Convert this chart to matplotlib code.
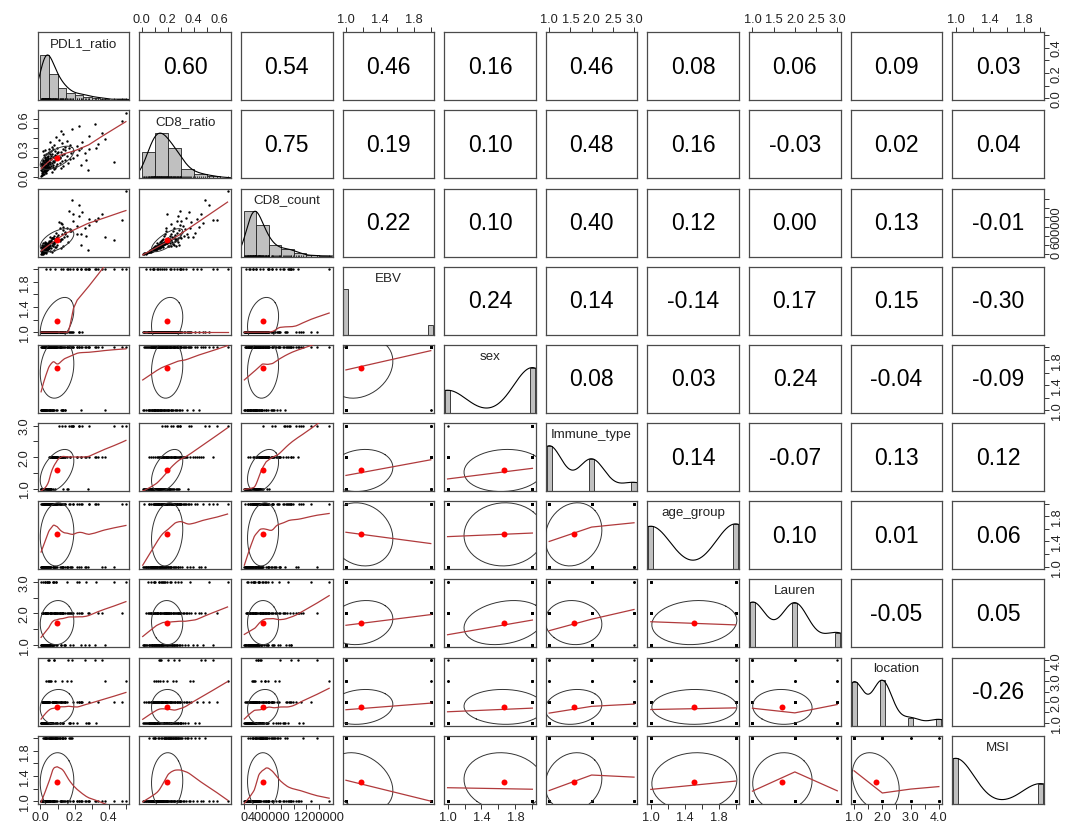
import numpy as np
import matplotlib.pyplot as plt

plt.rcParams['font.family'] = ['Liberation Sans', 'DejaVu Sans']

names = ['PDL1_ratio', 'CD8_ratio', 'CD8_count', 'EBV', 'sex',
         'Immune_type', 'age_group', 'Lauren', 'location', 'MSI']

# continuous measurements, one value per patient (same order in every column)
pdl1_ratio = [
    .004, .012, .007, .021, .015, .031, .009, .018, .026, .065,
    .011, .034, .019, .280, .041, .006, .027, .078, .014, .038,
    .023, .046, .057, .017, .033, .121, .009, .044, .029, .088,
    .036, .048, .072, .013, .052, .024, .091, .008, .037, .061,
    .019, .135, .029, .045, .074, .011, .033, .236, .022, .058,
    .042, .016, .097, .005, .039, .163, .027, .068, .047, .012,
    .113, .035, .082, .021, .431, .049, .054, .031, .127, .014,
    .076, .043, .268, .025, .087, .038, .142, .018, .063, .044,
    .171, .093, .032, .116, .059, .047, .189, .084, .028, .071,
    .036, .078, .112, .024, .064, .158, .045, .091, .127, .019,
    .083, .214, .057, .139, .031, .069, .176, .042, .095, .261,
    .118, .052, .104, .014, .087, .193, .061, .143, .027, .226,
    .074, .131, .048, .282, .098, .165, .236, .327, .068, .142,
    .215, .081, .173, .338, .124, .057, .246, .158, .109, .376,
    .093, .284, .131, .362, .118, .187, .228, .318, .478, .500]

cd8_ratio = [
    .008, .015, .021, .026, .032, .037, .041, .045, .049, .053,
    .056, .059, .062, .065, .068, .070, .072, .075, .077, .079,
    .081, .083, .085, .087, .088, .090, .091, .093, .094, .095,
    .096, .098, .099, .101, .103, .105, .106, .108, .110, .111,
    .113, .115, .116, .118, .120, .121, .123, .125, .126, .128,
    .130, .131, .133, .135, .137, .138, .140, .142, .143, .145,
    .147, .148, .150, .152, .154, .155, .157, .159, .161, .163,
    .164, .166, .168, .170, .172, .174, .176, .178, .180, .182,
    .184, .186, .188, .190, .192, .194, .195, .197, .198, .199,
    .201, .204, .207, .209, .212, .214, .217, .219, .222, .224,
    .227, .229, .232, .234, .237, .240, .242, .245, .248, .250,
    .253, .256, .259, .262, .265, .268, .271, .274, .277, .280,
    .283, .286, .289, .292, .295, .297, .298, .299, .305, .312,
    .318, .326, .333, .341, .349, .356, .364, .372, .381, .392,
    .410, .425, .440, .455, .470, .490, .520, .550, .580, .660]

# CD8 count in thousands
cd8_count_k = [
    8, 15, 22, 30, 18, 41, 35, 52, 47, 60,
    44, 72, 58, 95, 66, 83, 61, 104, 74, 88,
    92, 115, 79, 101, 126, 140, 97, 132, 108, 155,
    118, 147, 176, 112, 146, 98, 161, 87, 173, 129,
    154, 188, 120, 167, 243, 136, 158, 196, 142, 179,
    221, 133, 197, 164, 185, 262, 149, 211, 176, 194,
    286, 168, 228, 181, 312, 199, 254, 187, 335, 172,
    238, 207, 394, 216, 273, 232, 452, 249, 264, 226,
    517, 296, 258, 564, 277, 245, 883, 301, 238, 348,
    186, 274, 318, 193, 289, 402, 251, 336, 663, 178,
    305, 447, 268, 381, 221, 356, 498, 195, 372, 574,
    327, 293, 412, 188, 339, 721, 302, 468, 263, 837,
    358, 536, 197, 642, 384, 945, 452, 715, 356, 488,
    624, 392, 553, 782, 438, 374, 912, 571, 695, 386,
    472, 758, 587, 866, 683, 1180, 1080, 752, 741, 1370]

# categorical codes, one digit per patient
ebv = ("1111121111 1112111111 1121121112 1111111111 1211111211 "
       "1111121111 1111211111 1121111111 2111111111 1111121111 "
       "1211111112 1111121111 1112112211 2112111112 1212111222")
sex = ("1212122122 1112212212 1221221212 2112112212 2212211221 "
       "2212221121 2221221221 2221212122 2122212221 2122122211 "
       "2212212222 1221222122 2122221221 2222122221 2212222222")
immune_type = ("1111111112 1111111211 1111121111 1111112111 1111211211 "
               "1121111211 2121312121 2121213121 2212213212 1221111231 "
               "2212123122 2221231213 2213232222 2222213232 2222233233")
age_group = ("1121111112 1211111211 1112111211 1211212121 2121212122 "
             "1222111212 1212121221 2112122121 1122122221 2121211212 "
             "2122221221 2121222211 2222122221 2222122121 2211212222")
lauren = ("1111121231 2112312211 1121221132 1312123121 1212121212 "
          "1113322121 2131312121 3132212321 2122132212 2121221321 "
          "2311212121 1321212122 3212221321 2212212321 2122123123")
location = ("1211121121 1211211212 1212121212 1311212123 2121213212 "
            "4211241232 1242221231 2211212212 1212321212 1412121212 "
            "1212123214 2121321212 1241212112 1212212323 1214242423")
msi = ("1111111112 1111111111 1111211111 1221121111 1111111121 "
       "1121111111 2111112111 1112212121 1221111211 2221212221 "
       "2121212121 1222212121 2211121122 1121221121 2121121111")

# Pearson correlations printed above the diagonal, row by row
cor_labels = [
    [0.60, 0.54, 0.46, 0.16, 0.46, 0.08, 0.06, 0.09, 0.03],
    [0.75, 0.19, 0.10, 0.48, 0.16, -0.03, 0.02, 0.04],
    [0.22, 0.10, 0.40, 0.12, 0.00, 0.13, -0.01],
    [0.24, 0.14, -0.14, 0.17, 0.15, -0.30],
    [0.08, 0.03, 0.24, -0.04, -0.09],
    [0.14, -0.07, 0.13, 0.12],
    [0.10, 0.01, 0.06],
    [-0.05, 0.05],
    [-0.26],
]


def codes(s):
    return np.array([int(ch) for ch in s.replace(' ', '')], dtype=float)


cols = [np.array(pdl1_ratio), np.array(cd8_ratio), np.array(cd8_count_k) * 1000.0,
        codes(ebv), codes(sex), codes(immune_type), codes(age_group),
        codes(lauren), codes(location), codes(msi)]
assert all(len(c) == 150 for c in cols), [len(c) for c in cols]

nv = len(names)
R = np.eye(nv)
for i, row in enumerate(cor_labels):
    for k, v in enumerate(row):
        R[i, i + k + 1] = R[i + k + 1, i] = v

# tick positions, ticks labelled on a horizontal axis, ticks labelled on a vertical axis
two = (np.arange(1, 2.01, 0.2), [1, 1.4, 1.8], [1, 1.4, 1.8])
three = (np.arange(1, 3.01, 0.5), [1, 1.5, 2, 2.5, 3], [1, 2, 3])
axis_spec = [
    (np.arange(0, 0.51, 0.1), [0, 0.2, 0.4], [0, 0.2, 0.4]),
    (np.arange(0, 0.61, 0.1), [0, 0.2, 0.4, 0.6], [0, 0.3, 0.6]),
    (np.arange(0, 1.21e6, 2e5), [0, 4e5, 1.2e6], [0, 6e5]),
    two, two, three, two, three,
    (np.arange(1, 4.01, 0.5), [1, 2, 3, 4], [1, 2, 3, 4]),
    two,
]


def tick_labels(var, which):
    pos, xl, yl = axis_spec[var]
    keep = xl if which == 'x' else yl
    out = []
    for p in pos:
        if any(np.isclose(p, k) for k in keep):
            out.append('%d' % p if var == 2 else '%.1f' % p)
        else:
            out.append('')
    return pos, out


def pretty_step(lo, hi, ndiv):
    cell = (hi - lo) / ndiv
    U = 10 ** np.floor(np.log10(cell))
    unit = U
    if 2 * U - cell < 1.5 * (cell - unit):
        unit = 2 * U
        if 5 * U - cell < 2.75 * (cell - unit):
            unit = 5 * U
            if 10 * U - cell < 1.5 * (cell - unit):
                unit = 10 * U
    return unit


def _local_fit(x, y, xs, nleft, nright, rw, span):
    h = max(xs - x[nleft], x[nright] - xs)
    h9, h1 = 0.999 * h, 0.001 * h
    stop = max(np.searchsorted(x, xs + h9, side='right'), nleft)
    xx = x[nleft:stop]
    yy = y[nleft:stop]
    r = np.abs(xx - xs)
    w = np.zeros_like(r)
    inside = r <= h9
    with np.errstate(divide='ignore', invalid='ignore'):
        w[inside] = np.where(r[inside] <= h1, 1.0, (1 - (r[inside] / h) ** 3) ** 3)
    if rw is not None:
        w *= rw[nleft:stop]
    a = w.sum()
    if a <= 0:
        return None
    w = w / a
    if h > 0:
        a = np.sum(w * xx)
        b = xs - a
        c = np.sum(w * (xx - a) ** 2)
        if np.sqrt(c) > 0.001 * span:
            w = w * (b / c * (xx - a) + 1)
    return np.sum(w * yy)


def lowess(x, y, f=2 / 3, iters=3):
    order = np.argsort(x, kind='mergesort')
    x = np.asarray(x, float)[order]
    y = np.asarray(y, float)[order]
    n = len(x)
    ns = max(2, min(n, int(f * n + 1e-7)))
    span = x[-1] - x[0]
    delta = 0.01 * span
    fit = np.zeros(n)
    rw = None
    for it in range(iters + 1):
        nleft, nright = 0, ns - 1
        last, i = -1, 0
        while True:
            if nright < n - 1 and x[i] - x[nleft] > x[nright + 1] - x[i]:
                nleft += 1
                nright += 1
                continue
            val = _local_fit(x, y, x[i], nleft, nright, rw, span)
            fit[i] = y[i] if val is None else val
            if last < i - 1:
                t = (x[last + 1:i] - x[last]) / (x[i] - x[last])
                fit[last + 1:i] = t * fit[i] + (1 - t) * fit[last]
            last = i
            cut = x[last] + delta
            k = last + 1
            while k < n:
                if x[k] > cut:
                    break
                if x[k] == x[last]:
                    fit[k] = fit[last]
                    last = k
                k += 1
            i = max(last + 1, k - 1)
            if last >= n - 1:
                break
        if it == iters:
            break
        ar = np.abs(y - fit)
        sc = ar.mean()
        srt = np.sort(ar)
        m1 = n // 2
        cmad = 3 * (srt[m1] + srt[n - m1 - 1]) if n % 2 == 0 else 6 * srt[m1]
        if cmad == 0 or cmad < 1e-7 * sc:
            break
        rw = np.where(ar <= 0.001 * cmad, 1.0,
                      np.where(ar <= 0.999 * cmad, (1 - (ar / cmad) ** 2) ** 2, 0.0))
    return x, fit


def ellipse(mx, my, sx, sy, r, seg=51):
    t = np.linspace(0, 2 * np.pi, seg + 1)
    th = np.sign(r) / np.sqrt(2) if abs(r) > 0 else 1 / np.sqrt(2)
    shape = np.diag([np.sqrt(1 + r), np.sqrt(1 - r)]) @ np.array([[th, th], [-th, th]])
    e = np.column_stack([np.cos(t), np.sin(t)]) @ shape
    return e[:, 0] * sx + mx, e[:, 1] * sy + my


def density(x):
    q1, q3 = np.percentile(x, [25, 75])
    bw = 1.2 * 1.06 * min(np.std(x, ddof=1), (q3 - q1) / 1.34) * len(x) ** -0.2
    if bw <= 0:
        return None
    g = np.linspace(x.min() - 3 * bw, x.max() + 3 * bw, 512)
    d = np.exp(-0.5 * ((g[:, None] - x[None, :]) / bw) ** 2).sum(axis=1)
    return g, d / d.max()


lims = []
for c in cols:
    pad = 0.04 * (c.max() - c.min())
    lims.append((c.min() - pad, c.max() + pad))

fig = plt.figure(figsize=(10.71, 8.28), dpi=100)
W, H = 1071.0, 828.0
left0, top0, pw, ph = 37.7, 33.3, 91.6, 68.0
dx, dy = 101.62, 78.15

frame_col = '#4a4a4a'
smooth_col = '#b03a3c'
tick_kw = dict(direction='out', length=3.5, width=0.7, pad=1.5, labelsize=9.2,
               color='#333333', labelcolor='#222222')

for i in range(nv):
    for j in range(nv):
        x0 = (left0 + j * dx) / W
        y0 = 1 - (top0 + i * dy + ph) / H
        ax = fig.add_axes([x0, y0, pw / W, ph / H])
        for s in ax.spines.values():
            s.set_color(frame_col)
            s.set_linewidth(0.9)
        xv, yv = cols[j], cols[i]
        ax.set_xlim(lims[j])

        if i < j:
            ax.set_ylim(lims[i])
            ax.text(0.5, 0.5, '%.2f' % R[i, j], transform=ax.transAxes,
                    ha='center', va='center', fontsize=16.5, color='black')
        elif i == j:
            ax.set_ylim(0, 1.5)
            vals, counts = np.unique(xv, return_counts=True)
            rng = xv.max() - xv.min()
            if len(vals) < 11:
                hw = 0.03 * rng
                ax.bar(vals, counts / counts.max(), width=2 * hw, color='#c0c0c0',
                       edgecolor='#222222', linewidth=0.6)
            else:
                step = pretty_step(xv.min(), xv.max(), int(np.ceil(np.log2(len(xv)) + 1)))
                edges = np.arange(np.floor(xv.min() / step) * step,
                                  xv.max() + step, step)
                h, _ = np.histogram(xv, bins=edges)
                ax.bar(edges[:-1], h / h.max(), width=step, align='edge',
                       color='#c0c0c0', edgecolor='#222222', linewidth=0.6)
                ax.vlines(xv, 0, 0.045, color='black', linewidth=0.5)
            dens = density(xv)
            if dens is not None:
                ax.plot(dens[0], dens[1], color='black', linewidth=0.8)
            ax.text(0.5, 0.84, names[i], transform=ax.transAxes, ha='center',
                    va='center', fontsize=9.6, color='#222222')
        else:
            ax.set_ylim(lims[i])
            ax.scatter(xv, yv, s=3, color='black', linewidths=0, zorder=2)
            ex, ey = ellipse(xv.mean(), yv.mean(), xv.std(ddof=1), yv.std(ddof=1), R[i, j])
            ax.plot(ex, ey, color='#333333', linewidth=0.7, zorder=3)
            lx, ly = lowess(xv, yv)
            ax.plot(lx, ly, color=smooth_col, linewidth=0.9, zorder=4)
            ax.plot(xv.mean(), yv.mean(), 'o', color='red', markersize=4.3,
                    markeredgewidth=0, zorder=5)

        ax.set_xticks([])
        ax.set_yticks([])
        # axes alternate sides, as in a base R scatterplot matrix
        if (i == 0 and j % 2 == 1) or (i == nv - 1 and j % 2 == 0):
            pos, labs = tick_labels(j, 'x')
            ax.set_xticks(pos)
            ax.set_xticklabels(labs)
            ax.tick_params(axis='x', **tick_kw)
            if i == 0:
                ax.xaxis.set_ticks_position('top')
        if (j == 0 and i % 2 == 1) or (j == nv - 1 and i % 2 == 0):
            pos, labs = tick_labels(i, 'y')
            ax.set_yticks(pos)
            ax.set_yticklabels(labs, rotation=90, va='center')
            ax.tick_params(axis='y', **tick_kw)
            if j == nv - 1:
                ax.yaxis.set_ticks_position('right')

fig.savefig('out.png', dpi=100, facecolor='white')
